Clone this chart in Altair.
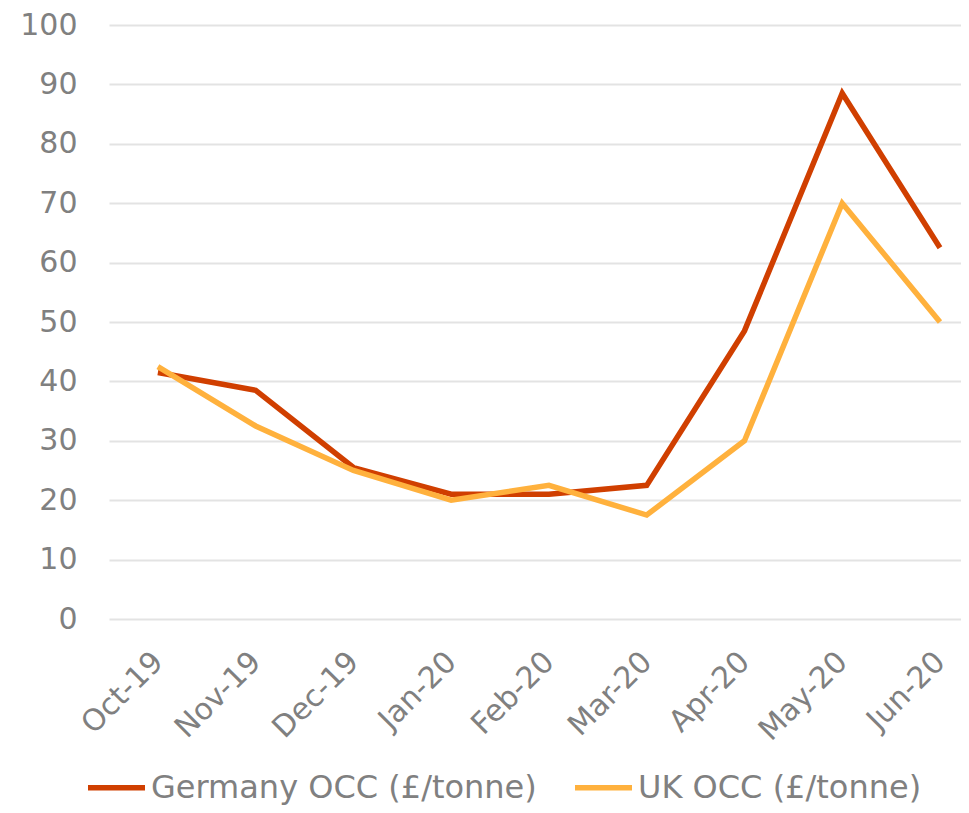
import altair as alt
import pandas as pd

months = ["Oct-19", "Nov-19", "Dec-19", "Jan-20", "Feb-20", "Mar-20", "Apr-20", "May-20", "Jun-20"]
germany = [41.5, 38.5, 25.5, 21.0, 21.0, 22.5, 48.5, 88.5, 62.5]
uk = [42.5, 32.5, 25.0, 20.0, 22.5, 17.5, 30.0, 70.0, 50.0]
series_names = ["Germany OCC (£/tonne)", "UK OCC (£/tonne)"]
series_colors = ["#D03F00", "#FFB13D"]

rows = []
for name, vals in zip(series_names, [germany, uk]):
    for i, (m, v) in enumerate(zip(months, vals)):
        rows.append({"idx": i, "month": m, "series": name, "value": v})
df = pd.DataFrame(rows)

label_expr = "[" + ",".join("'" + m + "'" for m in months) + "][datum.value]"

FONT = "DejaVu Sans"
GRAY = "#808080"

chart = alt.Chart(df).mark_line(strokeWidth=5.5).encode(
    x=alt.X(
        "idx:Q",
        scale=alt.Scale(domain=[-0.5, 8.215], nice=False, zero=False),
        axis=alt.Axis(
            values=list(range(len(months))),
            labelExpr=label_expr,
            labelAngle=315,
            labelAlign="right",
            labelBaseline="middle",
            labelPadding=38,
            labelFontSize=30,
            labelColor=GRAY,
            labelFont=FONT,
            labelOverlap=False,
            labelBound=False,
            grid=False,
            ticks=False,
            domain=False,
            title=None,
        ),
    ),
    y=alt.Y(
        "value:Q",
        scale=alt.Scale(domain=[0, 100], nice=False),
        axis=alt.Axis(
            values=list(range(0, 101, 10)),
            labelFontSize=30,
            labelColor=GRAY,
            labelFont=FONT,
            labelPadding=32,
            labelOverlap=False,
            gridColor="#e3e3e3",
            gridWidth=2,
            ticks=False,
            domain=False,
            title=None,
        ),
    ),
    color=alt.Color(
        "series:N",
        scale=alt.Scale(domain=series_names, range=series_colors),
        sort=series_names,
        legend=alt.Legend(
            title=None,
            orient="none",
            direction="horizontal",
            legendX=-24,
            legendY=731,
            symbolType="stroke",
            symbolSize=3249,
            symbolStrokeWidth=5.5,
            labelFontSize=32,
            labelColor=GRAY,
            labelFont=FONT,
            labelOffset=3,
            labelLimit=600,
            columnPadding=27,
        ),
    ),
    order="idx:Q",
).properties(
    width=852,
    height=594,
    autosize=alt.AutoSizeParams(type="none"),
    padding={"left": 101, "top": 17, "right": 0, "bottom": 186},
).configure_view(stroke=None)

chart.save("out.html", embed_options={"renderer": "svg", "actions": False})
